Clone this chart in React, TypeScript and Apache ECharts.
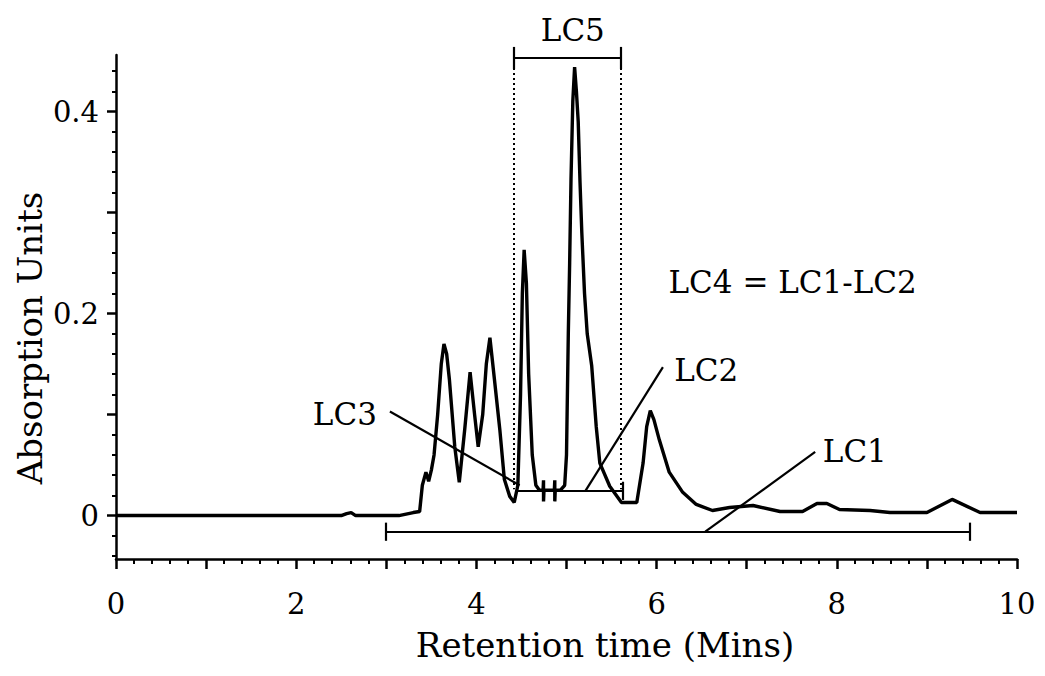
import React, { useEffect, useRef } from "react";
import * as echarts from "echarts";

// ---- Chromatogram trace (retention time in minutes, absorption units) ----
const retentionTime = [
  0, 0.5, 1.0, 1.5, 2.0, 2.5, 2.56, 2.61, 2.66, 3.0, 3.14, 3.3, 3.37, 3.4, 3.44, 3.47, 3.5, 3.53,
  3.57, 3.61, 3.64, 3.67, 3.7, 3.76, 3.81, 3.87, 3.93, 3.98, 4.02, 4.07, 4.11, 4.15, 4.2, 4.26,
  4.31, 4.37, 4.42, 4.46, 4.49, 4.51, 4.53, 4.555, 4.58, 4.62, 4.66, 4.7, 4.74, 4.745, 4.745, 4.75,
  4.8, 4.865, 4.87, 4.87, 4.875, 4.93, 4.98, 5.0, 5.02, 5.035, 5.05, 5.07, 5.09, 5.11, 5.13, 5.15,
  5.17, 5.2, 5.23, 5.28, 5.33, 5.37, 5.48, 5.61, 5.78, 5.85, 5.89, 5.93, 5.97, 6.03, 6.14, 6.29,
  6.44, 6.62, 6.81, 7.07, 7.37, 7.62, 7.78, 7.89, 8.03, 8.37, 8.59, 9.0, 9.28, 9.59, 10.0,
];
const absorbance = [
  0, 0, 0, 0, 0, 0, 0.002, 0.003, 0, 0, 0, 0.003, 0.004, 0.03, 0.043, 0.034, 0.045, 0.06,
  0.1, 0.15, 0.17, 0.16, 0.135, 0.068, 0.033, 0.085, 0.142, 0.1, 0.068, 0.1, 0.15, 0.176, 0.135, 0.085,
  0.036, 0.019, 0.013, 0.03, 0.12, 0.22, 0.263, 0.23, 0.14, 0.06, 0.03, 0.025, 0.025, 0.035, 0.014, 0.025,
  0.025, 0.025, 0.035, 0.014, 0.025, 0.025, 0.03, 0.06, 0.18, 0.25, 0.333, 0.41, 0.444, 0.42, 0.39, 0.33,
  0.28, 0.22, 0.18, 0.148, 0.088, 0.052, 0.029, 0.013, 0.013, 0.052, 0.088, 0.104, 0.095, 0.075, 0.043, 0.023,
  0.011, 0.005, 0.008, 0.01, 0.004, 0.004, 0.012, 0.012, 0.006, 0.005, 0.003, 0.003, 0.016, 0.003, 0.003,
];

// ---- Fraction ranges ----
const lc1Range = [2.99, 9.48];
const lc1Level = -0.016;
const lc2Range = [4.46, 5.62];
const lc2Level = 0.0245;
const lc5Range = [4.41, 5.6];
const lc5Level = 0.453;
const lc5DropTo = 0.026;
const capHalf = 0.009;

// ---- Leader lines [from, to] ----
const lc1Pointer = [[6.54, -0.016], [7.76, 0.063]];
const lc2Pointer = [[5.21, 0.0245], [6.07, 0.147]];
const lc3Pointer = [[3.04, 0.103], [4.48, 0.03]];

// ---- Annotation texts and anchors ----
const labelTexts = ["LC5", "LC4 = LC1-LC2", "LC2", "LC1", "LC3"];
const labelX = [5.07, 7.51, 6.55, 8.2, 2.54];
const labelY = [0.481, 0.231, 0.144, 0.064, 0.101];

// ---- Axis ticks ----
const yMajorTicks = [0, 0.1, 0.2, 0.3, 0.4];
const yLabelTicks = [0, 0.2, 0.4];
const yMinorTicks = [-0.04, -0.02, 0.02, 0.04, 0.06, 0.08, 0.12, 0.14, 0.16, 0.18, 0.22, 0.24, 0.26, 0.28, 0.32, 0.34, 0.36, 0.38, 0.42, 0.44];

const FONT = "DejaVu Serif";

export default function App() {
  const ref = useRef<HTMLDivElement>(null);
  useEffect(() => {
    if (!ref.current) return;
    const chart = echarts.init(ref.current, undefined, { renderer: "svg" });

    const seg = (a: number[], b: number[]) => ({ coords: [a, b] });
    const rangeSegments = [
      seg([lc1Range[0], lc1Level], [lc1Range[1], lc1Level]),
      seg([lc1Range[0], lc1Level - capHalf], [lc1Range[0], lc1Level + capHalf]),
      seg([lc1Range[1], lc1Level - capHalf], [lc1Range[1], lc1Level + capHalf]),
      seg([lc2Range[0], lc2Level], [lc2Range[1], lc2Level]),
      seg([lc2Range[1], lc2Level - capHalf], [lc2Range[1], lc2Level + capHalf]),
      seg([lc5Range[0], lc5Level], [lc5Range[1], lc5Level]),
      seg([lc5Range[0], lc5Level - 0.011], [lc5Range[0], lc5Level + 0.011]),
      seg([lc5Range[1], lc5Level - 0.011], [lc5Range[1], lc5Level + 0.011]),
      seg(lc1Pointer[0], lc1Pointer[1]),
      seg(lc2Pointer[0], lc2Pointer[1]),
      seg(lc3Pointer[0], lc3Pointer[1]),
    ];
    const dottedSegments = [
      seg([lc5Range[0], lc5Level], [lc5Range[0], lc5DropTo]),
      seg([lc5Range[1], lc5Level], [lc5Range[1], lc5DropTo]),
    ];

    chart.setOption({
      animation: false,
      backgroundColor: "#ffffff",
      grid: { left: 116, right: 28, top: 55, bottom: 117, containLabel: false },
      xAxis: {
        type: "value",
        min: 0,
        max: 10,
        interval: 1,
        axisLine: { onZero: false, lineStyle: { color: "#000", width: 2.5 } },
        axisTick: { show: true, length: 10, lineStyle: { color: "#000", width: 2.5 } },
        minorTick: { show: true, splitNumber: 5, length: 5, lineStyle: { color: "#000", width: 2 } },
        splitLine: { show: false },
        minorSplitLine: { show: false },
        axisLabel: {
          formatter: (v: number) => (Math.round(v) % 2 === 0 ? String(Math.round(v)) : ""),
          fontSize: 29,
          fontFamily: FONT,
          color: "#000",
          margin: 30,
        },
        name: "Retention time (Mins)",
        nameLocation: "middle",
        nameGap: 69,
        nameTextStyle: { fontSize: 34, fontFamily: FONT, color: "#000", padding: [0, 0, 0, 77] },
      },
      yAxis: [
        {
          type: "value",
          min: -0.043,
          max: 0.456,
          position: "left",
          axisLine: { show: true, lineStyle: { color: "#000", width: 2.5 } },
          axisTick: { show: true, customValues: yMajorTicks, length: 9, lineStyle: { color: "#000", width: 2.5 } },
          axisLabel: {
            customValues: yLabelTicks,
            formatter: (v: number) => (Math.abs(v) < 1e-9 ? "0" : v.toFixed(1)),
            fontSize: 29,
            fontFamily: FONT,
            color: "#000",
            margin: 17,
          },
          splitLine: { show: false },
        },
        {
          type: "value",
          min: -0.043,
          max: 0.456,
          position: "left",
          axisLine: { show: false },
          axisTick: { show: true, customValues: yMinorTicks, length: 4, lineStyle: { color: "#000", width: 2 } },
          axisLabel: { show: false },
          splitLine: { show: false },
        },
      ],
      graphic: [
        {
          type: "text",
          x: 30,
          y: 338,
          rotation: Math.PI / 2,
          style: {
            text: "Absorption Units",
            fontSize: 34,
            fontFamily: FONT,
            fill: "#000",
            align: "center",
            verticalAlign: "middle",
          },
        },
      ],
      series: [
        {
          type: "line",
          data: retentionTime.map((t, i) => [t, absorbance[i]]),
          showSymbol: false,
          symbol: "none",
          lineStyle: { color: "#000", width: 3.4 },
          yAxisIndex: 0,
          z: 3,
        },
        {
          type: "lines",
          coordinateSystem: "cartesian2d",
          data: rangeSegments,
          lineStyle: { color: "#000", width: 2.2, opacity: 1 },
          clip: false,
          z: 4,
        },
        {
          type: "lines",
          coordinateSystem: "cartesian2d",
          data: dottedSegments,
          lineStyle: { color: "#000", width: 2, type: [2, 3], opacity: 1 },
          clip: false,
          z: 2,
        },
        {
          type: "scatter",
          data: labelTexts.map((s, i) => ({ value: [labelX[i], labelY[i]], name: s })),
          symbolSize: 0.1,
          itemStyle: { color: "#000", opacity: 1 },
          clip: false,
          label: {
            show: true,
            position: "inside",
            formatter: (p: any) => p.name,
            fontSize: 31,
            fontFamily: FONT,
            color: "#000",
            opacity: 1,
            textBorderWidth: 0,
          },
          z: 5,
        },
      ],
    });
    return () => chart.dispose();
  }, []);
  return <div ref={ref} style={{ position: "fixed", left: 0, top: 0, width: 1045, height: 676 }} />;
}
